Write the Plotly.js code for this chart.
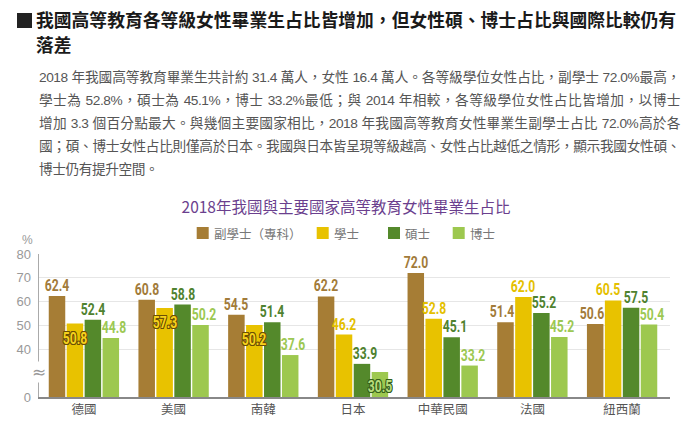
<!DOCTYPE html>
<html><head><meta charset="utf-8">
<script src="https://cdn.plot.ly/plotly-3.0.1.min.js"></script>
<style>
body{margin:0;background:#fff;width:693px;height:422px;overflow:hidden;position:relative;font-family:"Noto Sans CJK TC","Noto Sans",sans-serif;}
#plot{position:absolute;left:0;top:0;width:693px;height:422px;z-index:1;}
#hdr{position:absolute;left:0;top:0;width:693px;height:190px;z-index:2;}
.sq{position:absolute;left:17px;top:13px;width:15px;height:15px;background:#222;}
.ttl{position:absolute;left:36px;top:7px;width:650px;font-weight:700;font-size:17.8px;line-height:25px;color:#1a1a1a;white-space:nowrap;}
.para{position:absolute;left:39px;top:66px;width:641px;font-family:"Liberation Sans","Noto Sans CJK TC",sans-serif;font-size:13.7px;letter-spacing:-0.45px;line-height:23.1px;color:#555;white-space:nowrap;}
.para .j{text-align:justify;text-align-last:justify;}
</style></head>
<body>
<div id="hdr">
  <div class="sq"></div>
  <div class="ttl">我國高等教育各等級女性畢業生占比皆增加，但女性碩、博士占比與國際比較仍有<br>落差</div>
  <div class="para">
    <div class="j">2018 年我國高等教育畢業生共計約 31.4 萬人，女性 16.4 萬人。各等級學位女性占比，副學士 72.0%最高，</div>
    <div class="j">學士為 52.8%，碩士為 45.1%，博士 33.2%最低；與 2014 年相較，各等級學位女性占比皆增加，以博士</div>
    <div class="j">增加 3.3 個百分點最大。與幾個主要國家相比，2018 年我國高等教育女性畢業生副學士占比 72.0%高於各</div>
    <div class="j">國；碩、博士女性占比則僅高於日本。我國與日本皆呈現等級越高、女性占比越低之情形，顯示我國女性碩、</div>
    <div>博士仍有提升空間。</div>
  </div>
</div>
<div id="plot"></div>
<script>
// ---- data ----
const countries = ['德國','美國','南韓','日本','中華民國','法國','紐西蘭'];
const seriesNames = ['副學士（專科）','學士','碩士','博士'];
const associate = [62.4, 60.8, 54.5, 62.2, 72.0, 51.4, 50.6];
const bachelor  = [50.8, 57.3, 50.2, 46.2, 52.8, 62.0, 60.5];
const master    = [52.4, 58.8, 51.4, 33.9, 45.1, 55.2, 57.5];
const doctor    = [44.8, 50.2, 37.6, 30.5, 33.2, 45.2, 50.4];
const tickValues = [0, 40, 50, 60, 70, 80];
// labels drawn inside the bar top (series index, country index)
const insideLabels = [[1,0],[1,1],[1,2],[3,3]];

// ---- styles ----
const barColors   = ['#a67d35','#e8c200','#54892b','#9dc84f'];
const labelColors = ['#a27b3a','#e4c000','#4f8230','#9cc853'];
const insideFill  = ['#a27b3a','#f6d21c','#4f8230','#b9dc7c'];
const insideLine  = ['#5a3f10','#6a4f05','#2f5515','#35601a'];

const BREAK = 20; // axis break: values >= 40 are drawn shifted down by 20
const disp = v => (v === 0 ? 0 : v - BREAK);

const allSeries = [associate, bachelor, master, doctor];
const W = 693, H = 422;
const L = 39, R = 670, T = 254, B = 397;
const bargap = 0.2, bargroupgap = 0.08;
const X = px => (px - L) / (R - L);
const Y = py => (B - py) / (B - T);

const traces = allSeries.map((vals, k) => ({
  type: 'bar', name: seriesNames[k], x: countries, y: vals.map(disp),
  marker: {color: barColors[k]}, hoverinfo: 'skip', showlegend: false
}));

const slot = (1 - bargap) / 4;
const shadowOf = c => ['1px 0 0','-1px 0 0','0 1px 0','0 -1px 0','1px 1px 0','-1px -1px 0','1px -1px 0','-1px 1px 0']
  .map(s => s + ' ' + c).join(', ');
const isInside = (k, i) => insideLabels.some(p => p[0] === k && p[1] === i);

// nudge neighbouring outside labels apart when their heights are close
const shifts = allSeries.map(s => s.map(() => 0));
countries.forEach((c, i) => {
  for (let k = 0; k < 3; k++) {
    if (isInside(k, i) || isInside(k + 1, i)) continue;
    const a = allSeries[k][i], b = allSeries[k + 1][i], d = Math.abs(a - b);
    if (d < 4) { shifts[k][i] -= 5; shifts[k + 1][i] += 5; }
    else if (d < 14) { if (a < b) shifts[k][i] -= 3; else shifts[k + 1][i] += 3; }
  }
});

const annotations = [];
const labelIdx = [];
allSeries.forEach((vals, k) => {
  vals.forEach((v, i) => {
    const inside = isInside(k, i);
    const a = {
      x: i + (k - 1.5) * slot, xanchor: 'center', xshift: shifts[k][i],
      y: disp(v), xref: 'x', yref: 'y', showarrow: false,
      text: v.toFixed(1),
      font: {family: 'Roboto,"Liberation Sans",sans-serif', size: 16, weight: 700,
             color: inside ? insideFill[k] : labelColors[k]},
      yanchor: inside ? 'top' : 'bottom', yshift: inside ? -3 : -1
    };
    if (inside) a.font.shadow = shadowOf(insideLine[k]);
    labelIdx.push(annotations.length);
    annotations.push(a);
  });
});

// axis extras
annotations.push({xref:'paper', yref:'paper', x: X(27), y: Y(240), xanchor:'center', yanchor:'middle',
  text:'%', showarrow:false, font:{size:12, color:'#999', family:'"Liberation Sans",sans-serif'}});
annotations.push({xref:'paper', yref:'paper', x: X(38.5), y: Y(372), xanchor:'center', yanchor:'middle',
  text:'≈', showarrow:false, bgcolor:'#fff', borderpad:0,
  font:{size:17, color:'#999', family:'"DejaVu Sans",sans-serif'}});

// legend (manual)
const legX = [196.7, 316.7, 388, 452.7];
const shapes = [];
seriesNames.forEach((n, k) => {
  shapes.push({type:'rect', xref:'paper', yref:'paper', x0: X(legX[k]), x1: X(legX[k] + 12),
    y0: Y(239), y1: Y(227), fillcolor: barColors[k], line:{width:0}});
  annotations.push({xref:'paper', yref:'paper', x: X(legX[k] + 15), y: Y(233), xanchor:'left', yanchor:'middle',
    text: n, showarrow:false, font:{size:12.5, color:'#777', family:'"Noto Sans CJK TC",sans-serif'}});
});

const layout = {
  width: W, height: H,
  margin: {l: L, r: W - R, t: T, b: H - B, pad: 0},
  paper_bgcolor: 'rgba(0,0,0,0)', plot_bgcolor: 'rgba(0,0,0,0)',
  title: {text: '2018年我國與主要國家高等教育女性畢業生占比', x: 346 / W, y: 1 - 207.5 / H,
          xref: 'container', yref: 'container', xanchor: 'center', yanchor: 'middle',
          font: {family: '"Noto Sans CJK TC",sans-serif', size: 15.5, color: '#6b3f8e'}},
  barmode: 'group', bargap: bargap, bargroupgap: bargroupgap,
  xaxis: {type: 'category', showline: true, linecolor: '#888', linewidth: 1.5, ticks: '',
          tickfont: {family: '"Noto Sans CJK TC",sans-serif', size: 12.5, color: '#555'}, fixedrange: true},
  yaxis: {range: [0, 60], tickvals: tickValues.map(disp), ticktext: tickValues.map(String),
          showgrid: true, gridcolor: '#e6e6e6', gridwidth: 1, zeroline: false,
          showline: true, linecolor: '#aaa', linewidth: 1.5, ticks: '', ticklabelstandoff: 4,
          tickfont: {family: '"Liberation Sans",sans-serif', size: 13, color: '#999'}, fixedrange: true},
  annotations: annotations, shapes: shapes, showlegend: false
};
Plotly.newPlot('plot', traces, layout, {displayModeBar: false, staticPlot: true}).then(gd => {
  // condensed look for the value labels
  labelIdx.forEach(i => {
    const g = gd.querySelector('g.annotation[data-index="' + i + '"]');
    if (!g) return;
    const t = g.querySelector('text.annotation-text');
    if (!t) return;
    const len = t.getComputedTextLength();
    t.setAttribute('textLength', (len * 0.76).toFixed(2));
    t.setAttribute('lengthAdjust', 'spacingAndGlyphs');
  });
});
</script>
</body></html>
